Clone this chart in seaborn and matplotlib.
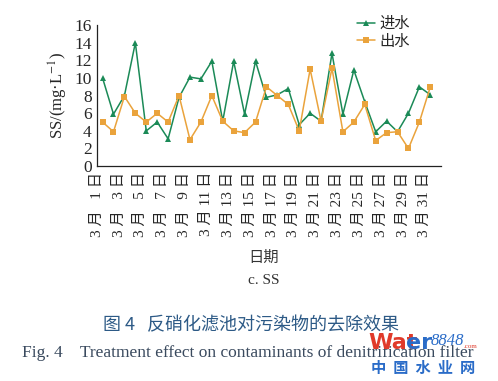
import pandas as pd
import matplotlib.pyplot as plt
import seaborn as sns

days = list(range(1, 32))
inflow = [10, 5.9, 8, 14, 4, 5, 3.1, 7.8, 10.1, 9.9, 11.9, 5.1, 11.9, 5.9, 11.9,
          7.8, 8.1, 8.8, 4.7, 6, 5.1, 12.8, 5.9, 10.9, 7.3, 3.9, 5.1, 3.9, 6, 9, 8.1]
outflow = [5, 3.9, 7.9, 6, 5, 6, 5, 8, 3, 5, 8, 5.1, 4, 3.8, 5,
           9, 8, 7, 4, 11, 5.1, 11.1, 3.9, 5, 7, 2.9, 3.8, 3.9, 2, 5, 9]
series_names = ["进水", "出水"]
tick_days = list(range(1, 32, 2))
# single-digit days get a figure space so every label has the same length
tick_labels = [f"3 月 {d if d > 9 else chr(0x2007) + str(d)} 日" for d in tick_days]

df = pd.DataFrame({"day": days * 2,
                   "SS": inflow + outflow,
                   "kind": [series_names[0]] * 31 + [series_names[1]] * 31})

sns.set_style("white")
plt.rcParams['font.family'] = ['Liberation Serif', 'Noto Sans CJK SC', 'DejaVu Sans']
plt.rcParams['mathtext.fontset'] = 'stix'

fig = plt.figure(figsize=(4.98, 3.81), dpi=100)
ax = fig.add_axes([0.195, 0.564, 0.691, 0.370])

green = "#1b8a57"
orange = "#eaa33c"
sns.lineplot(data=df, x="day", y="SS", hue="kind", style="kind",
             palette=[green, orange], markers=["^", "s"], dashes=False,
             markersize=5, markeredgewidth=0, linewidth=1.1, ax=ax)

ax.set_xlim(0.5, 32.0)
ax.set_ylim(0, 16)
ax.set_yticks(range(0, 17, 2))
ax.set_xticks([d - 0.5 for d in tick_days])
ax.set_xticklabels(tick_labels, rotation=90, fontsize=11,
                   family=['Liberation Serif', 'Noto Sans CJK SC'])
ax.tick_params(axis='y', direction='out', length=3, width=0.8, labelsize=12.5, pad=1)
ax.tick_params(axis='x', direction='in', length=3, width=0.8, pad=4)
for s in ["top", "right"]:
    ax.spines[s].set_visible(False)
for s in ["left", "bottom"]:
    ax.spines[s].set_color("#222222")
    ax.spines[s].set_linewidth(0.9)
ax.set_ylabel("SS/(mg·L$^{-1}$)", fontsize=12, labelpad=3)
ax.set_xlabel("")

handles, labels = ax.get_legend_handles_labels()
ax.legend(handles, labels, loc="upper right", bbox_to_anchor=(0.95, 1.17),
          frameon=False, handlelength=1.2, handletextpad=0.3,
          labelspacing=0.05, prop={'family': ['Noto Sans CJK SC'], 'size': 11})

fig.text(0.53, 0.325, "日期", ha="center", va="center", fontsize=11,
         family=['Noto Sans CJK SC'], color="#333333")
fig.text(0.53, 0.263, "c. SS", ha="center", va="center", fontsize=11,
         color="#333333")
fig.text(0.505, 0.147, "图 4   反硝化滤池对污染物的去除效果", ha="center", va="center",
         fontsize=13, family=['Noto Sans CJK SC'], color="#2d5a86")
fig.text(0.045, 0.073, "Fig. 4    Treatment effect on contaminants of denitrification filter",
         ha="left", va="center", fontsize=12.5, color="#3a4a5e")
fig.text(0.74, 0.1, "Wat", ha="left", va="center", fontsize=16, weight="bold",
         family=['DejaVu Sans'], color="#e03a2a")
fig.text(0.815, 0.1, "er", ha="left", va="center", fontsize=16, weight="bold",
         family=['DejaVu Sans'], color="#2a6cc8")
fig.text(0.865, 0.105, "8848", ha="left", va="center", fontsize=12, style="italic",
         color="#2a6cc8")
fig.text(0.93, 0.09, ".com", ha="left", va="center", fontsize=5, color="#e03a2a")
fig.text(0.745, 0.035, "中  国  水  业  网", ha="left", va="center", fontsize=11,
         weight="bold", family=['Noto Sans CJK SC'], color="#2a6cc8")

fig.savefig("out.png", dpi=100, facecolor="white")
